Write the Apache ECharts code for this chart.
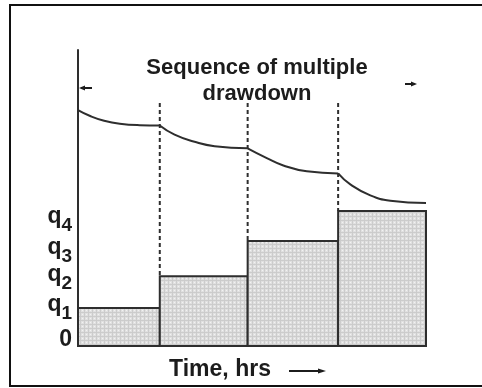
<!DOCTYPE html>
<html>
<head>
<meta charset="utf-8">
<script src="https://cdn.jsdelivr.net/npm/echarts@6/dist/echarts.min.js"></script>
<style>
html,body{margin:0;padding:0;background:#fff;}
#chart{width:482px;height:388px;}
</style>
</head>
<body>
<div id="chart"></div>
<script>
// ---- data ----
const stepStart = [0, 0.94, 1.95, 2.99];
const stepEnd   = [0.94, 1.95, 2.99, 4.0];
const stepRate  = [12.8, 23.6, 35.5, 45.6];

const seg1 = [[0,79.7],[0.14,77.7],[0.29,76.2],[0.48,75.1],[0.71,74.6],[0.94,74.5]];
const seg2 = [[0.94,74.5],[1.11,71.4],[1.34,69.0],[1.57,67.5],[1.95,66.8]];
const seg3 = [[1.95,66.8],[2.17,63.5],[2.36,61.0],[2.63,59.0],[2.99,58.3]];
const seg4 = [[2.99,58.3],[3.13,54.6],[3.36,50.9],[3.59,49.1],[4.0,48.3]];

const dividerTimes = [0.94, 1.95, 2.99];
const dividerTop = 82.1;

const yLabelPos = [2.0, 13.9, 24.0, 33.1, 43.6];
const yLabels   = ['0', 'q1', 'q2', 'q3', 'q4'];

// ---- stipple pattern ----
const pc = document.createElement('canvas');
pc.width = 4; pc.height = 4;
const g = pc.getContext('2d');
g.fillStyle = '#e0e0e0'; g.fillRect(0,0,4,4);
g.fillStyle = '#cccccc';
g.fillRect(0,0,4,1); g.fillRect(0,0,1,4);
g.fillStyle = '#f2f2f2'; g.fillRect(2,2,1,1);
const pattern = {image: pc, repeat: 'repeat'};

const FONT = "'Liberation Sans', Arial, Helvetica, sans-serif";
const INK = '#1c1c1c';
const LINE = '#2e2e2e';

const boxData = stepStart.map((s,i)=>[s, stepEnd[i], stepRate[i]]);

const curveSeries = [seg1, seg2, seg3, seg4].map(seg => ({
  type: 'line', data: seg, smooth: 0.5, symbol: 'none', silent: true, z: 4,
  lineStyle: {color: LINE, width: 2}
}));

const dividerSeries = dividerTimes.map((t,i) => ({
  type: 'line', data: [[t, dividerTop], [t, stepRate[i+1]]], symbol: 'none', silent: true, z: 3,
  lineStyle: {color: LINE, width: 2, type: [4, 3]}
}));

const chart = echarts.init(document.getElementById('chart'), null, {renderer: 'canvas'});
chart.setOption({
  animation: false,
  backgroundColor: '#fff',
  grid: {left: 78, right: 56, top: 50, bottom: 42, containLabel: false, outerBoundsMode: 'none'},
  title: {
    text: 'Sequence of multiple\ndrawdown',
    left: 252, top: 50, textAlign: 'center',
    textStyle: {fontFamily: FONT, fontWeight: 'bold', fontSize: 22, color: INK, lineHeight: 26}
  },
  xAxis: {
    type: 'value', min: 0, max: 4,
    name: 'Time, hrs', nameLocation: 'middle', nameGap: 12,
    nameTextStyle: {fontFamily: FONT, fontWeight: 'bold', fontSize: 23, color: INK, padding: [0, 64, 0, 0]},
    axisLine: {show: true, lineStyle: {color: LINE, width: 2}},
    axisTick: {show: false}, axisLabel: {show: false}, splitLine: {show: false}
  },
  yAxis: {
    type: 'value', min: 0, max: 100,
    axisLine: {show: true, lineStyle: {color: LINE, width: 2}},
    axisTick: {show: false}, splitLine: {show: false},
    axisLabel: {
      show: true, margin: 6, customValues: yLabelPos,
      formatter: function (v, idx) {
        let i = yLabelPos.indexOf(v);
        if (i < 0) i = idx;
        const l = yLabels[i];
        if (l.length > 1) return '{q|' + l[0] + '}{s|' + l.slice(1) + '}';
        return '{q|' + l + '}';
      },
      rich: {
        q: {fontFamily: FONT, fontWeight: 'bold', fontSize: 23, color: INK, verticalAlign: 'bottom'},
        s: {fontFamily: FONT, fontWeight: 'bold', fontSize: 19, color: INK, verticalAlign: 'bottom', padding: [0,0,-7,0]}
      }
    }
  },
  graphic: [
    {type: 'rect', shape: {x: 10, y: 5, width: 500, height: 381}, style: {fill: 'none', stroke: '#111', lineWidth: 2}, z: 100},
    // top span arrows
    {type: 'line', shape: {x1: 81, y1: 88, x2: 92, y2: 88}, style: {stroke: INK, lineWidth: 2}},
    {type: 'polygon', shape: {points: [[79,88],[85,85.5],[85,90.5]]}, style: {fill: INK}},
    {type: 'line', shape: {x1: 405, y1: 84, x2: 413, y2: 84}, style: {stroke: INK, lineWidth: 2}},
    {type: 'polygon', shape: {points: [[417,84],[411,81.5],[411,86.5]]}, style: {fill: INK}},
    // time arrow
    {type: 'line', shape: {x1: 289, y1: 371, x2: 320, y2: 371}, style: {stroke: INK, lineWidth: 2}},
    {type: 'polygon', shape: {points: [[326,371],[318,368.5],[318,373.5]]}, style: {fill: INK}}
  ],
  series: [
    {
      type: 'custom', data: boxData, silent: true, z: 2,
      renderItem: function (params, api) {
        const p0 = api.coord([api.value(0), 0]);
        const p1 = api.coord([api.value(1), api.value(2)]);
        return {
          type: 'rect',
          shape: {x: p0[0], y: p1[1], width: p1[0] - p0[0], height: p0[1] - p1[1]},
          style: {fill: pattern, stroke: LINE, lineWidth: 2}
        };
      }
    }
  ].concat(curveSeries, dividerSeries)
});
</script>
</body>
</html>
